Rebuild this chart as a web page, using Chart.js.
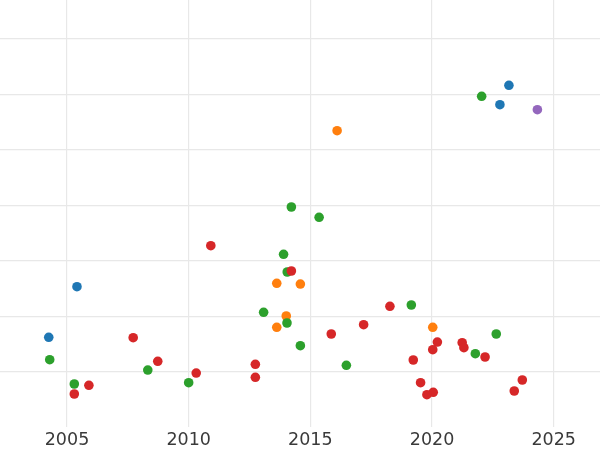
<!DOCTYPE html>
<html>
<head>
<meta charset="utf-8">
<script src="https://cdn.jsdelivr.net/npm/chart.js@4/dist/chart.umd.min.js"></script>
<style>
  html, body { margin: 0; padding: 0; background: #ffffff; }
  #wrap { width: 600px; height: 450px; }
</style>
</head>
<body>
<div id="wrap"><canvas id="c" width="600" height="450"></canvas></div>
<script>
// ---- data ----
const xTickLabels = [2005, 2010, 2015, 2020, 2025];
const yGridValues = [0, 1, 2, 3, 4, 5, 6];

const blueYears  = [2005.41, 2004.25, 2023.16, 2022.79];
const blueValues = [1.535, 0.622, 5.167, 4.817];

const orangeYears  = [2013.62, 2014.59, 2014.01, 2013.62, 2020.03, 2016.10];
const orangeValues = [1.596, 1.583, 1.006, 0.803, 0.803, 4.348];

const greenYears  = [2013.90, 2014.05, 2013.08, 2014.04, 2014.59, 2004.29, 2008.32, 2010.00,
                     2005.30, 2019.15, 2022.64, 2021.78, 2016.48, 2022.04, 2015.36, 2014.22];
const greenValues = [2.119, 1.800, 1.073, 0.880, 0.471, 0.218, 0.032, -0.197,
                     -0.220, 1.205, 0.682, 0.326, 0.117, 4.968, 2.786, 2.972];

const redYears  = [2010.91, 2014.22, 2007.72, 2008.73, 2012.74, 2010.31, 2012.74, 2005.90,
                   2005.30, 2018.27, 2017.19, 2015.86, 2020.22, 2021.24, 2021.31, 2020.03,
                   2022.18, 2019.23, 2023.71, 2019.53, 2023.38, 2020.05, 2019.79];
const redValues = [2.274, 1.818, 0.615, 0.189, 0.135, -0.022, -0.099, -0.243,
                   -0.400, 1.181, 0.849, 0.682, 0.537, 0.525, 0.435, 0.399,
                   0.267, 0.213, -0.148, -0.197, -0.346, -0.370, -0.413];

const purpleYears  = [2024.33];
const purpleValues = [4.727];

// ---- build ----
function pts(xs, ys) { return xs.map((x, i) => ({ x: x, y: ys[i] })); }
function ds(xs, ys, color, order) {
  return {
    data: pts(xs, ys),
    backgroundColor: color,
    borderColor: color,
    borderWidth: 0,
    pointRadius: 4.8,
    pointHoverRadius: 4.8,
    order: order
  };
}

new Chart(document.getElementById('c'), {
  type: 'scatter',
  data: {
    datasets: [
      ds(blueYears, blueValues, '#1f77b4', 5),
      ds(orangeYears, orangeValues, '#ff7f0e', 4),
      ds(greenYears, greenValues, '#2ca02c', 3),
      ds(redYears, redValues, '#d62728', 2),
      ds(purpleYears, purpleValues, '#9467bd', 1)
    ]
  },
  options: {
    responsive: false,
    animation: false,
    devicePixelRatio: 1,
    layout: { padding: 0, autoPadding: false },
    plugins: { legend: { display: false }, tooltip: { enabled: false } },
    scales: {
      x: {
        type: 'linear',
        min: 2002.247,
        max: 2026.903,
        border: { display: false },
        grid: { color: '#e8e8e8', lineWidth: 1.2, drawTicks: false },
        ticks: {
          padding: 3.4,
          color: '#3a3a3a',
          font: { family: 'DejaVu Sans', size: 17.5 },
          callback: (v) => String(v)
        },
        afterBuildTicks: (s) => { s.ticks = xTickLabels.map(v => ({ value: v })); },
        afterFit: (s) => { s.height = 23.3; }
      },
      y: {
        type: 'linear',
        min: -0.99,
        max: 6.705,
        border: { display: false },
        grid: { color: '#e8e8e8', lineWidth: 1.2, drawTicks: false },
        ticks: { display: false },
        afterBuildTicks: (s) => { s.ticks = yGridValues.map(v => ({ value: v })); },
        afterFit: (s) => { s.width = 0; }
      }
    }
  }
});
</script>
</body>
</html>
